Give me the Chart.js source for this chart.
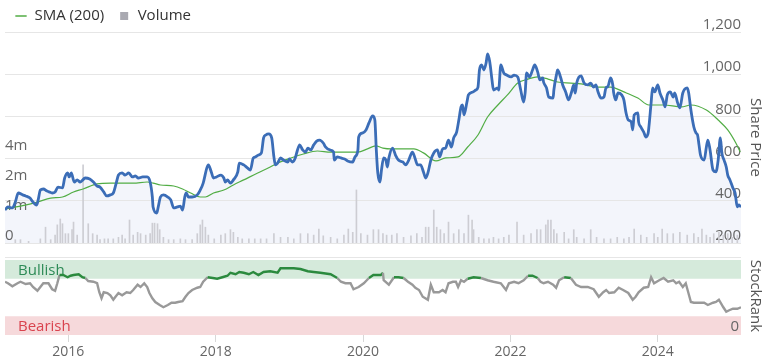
<!DOCTYPE html>
<html><head><meta charset="utf-8">
<script src="https://cdn.jsdelivr.net/npm/chart.js@4.4.1/dist/chart.umd.min.js"></script>
<style>
html,body{margin:0;padding:0;background:#fff;}
#wrap{position:relative;width:766px;height:360px;overflow:hidden;background:#fff;}
canvas{position:absolute;left:0;}
#c1{top:0;}
#c2{top:250px;}
</style></head><body>
<div id="wrap"><canvas id="c1" width="766" height="250"></canvas><canvas id="c2" width="766" height="110"></canvas></div>
<script>
// ---- data: [decimal year, value] ----
const sharePrice = [[2015.14,356],[2015.18,371],[2015.24,366],[2015.28,394],[2015.32,437],[2015.38,428],[2015.42,423],[2015.48,413],[2015.52,394],[2015.57,380],[2015.59,404],[2015.62,451],[2015.66,456],[2015.71,446],[2015.74,442],[2015.78,437],[2015.82,442],[2015.86,465],[2015.92,461],[2015.95,508],[2015.99,532],[2016.01,513],[2016.04,532],[2016.08,489],[2016.12,499],[2016.16,489],[2016.23,508],[2016.29,503],[2016.34,489],[2016.39,470],[2016.43,465],[2016.48,442],[2016.52,423],[2016.57,428],[2016.61,437],[2016.65,484],[2016.68,522],[2016.73,532],[2016.77,522],[2016.82,532],[2016.87,513],[2016.91,518],[2016.95,508],[2017.01,513],[2017.07,513],[2017.11,489],[2017.14,418],[2017.15,371],[2017.20,342],[2017.22,371],[2017.25,418],[2017.29,428],[2017.35,418],[2017.39,404],[2017.43,366],[2017.48,371],[2017.52,375],[2017.55,356],[2017.58,418],[2017.60,437],[2017.63,418],[2017.68,418],[2017.75,428],[2017.79,451],[2017.83,484],[2017.88,556],[2017.90,570],[2017.94,537],[2017.97,508],[2018.01,513],[2018.07,522],[2018.11,508],[2018.13,489],[2018.16,499],[2018.20,484],[2018.24,499],[2018.30,537],[2018.32,579],[2018.38,570],[2018.43,556],[2018.47,546],[2018.51,603],[2018.54,608],[2018.58,617],[2018.62,627],[2018.65,698],[2018.68,712],[2018.72,717],[2018.76,698],[2018.79,608],[2018.81,570],[2018.84,579],[2018.88,603],[2018.92,593],[2018.98,584],[2019.00,598],[2019.04,584],[2019.08,603],[2019.11,641],[2019.14,665],[2019.18,641],[2019.22,631],[2019.25,650],[2019.29,641],[2019.33,665],[2019.37,683],[2019.41,688],[2019.46,674],[2019.49,655],[2019.55,641],[2019.60,631],[2019.61,593],[2019.65,608],[2019.70,603],[2019.75,598],[2019.79,589],[2019.86,584],[2019.89,608],[2019.93,641],[2019.94,702],[2019.99,721],[2020.04,736],[2020.08,769],[2020.13,802],[2020.16,783],[2020.18,641],[2020.20,532],[2020.23,489],[2020.25,546],[2020.28,603],[2020.31,593],[2020.33,560],[2020.35,603],[2020.40,650],[2020.44,617],[2020.48,593],[2020.54,584],[2020.58,570],[2020.62,593],[2020.67,631],[2020.70,608],[2020.74,570],[2020.78,570],[2020.82,537],[2020.85,508],[2020.88,532],[2020.92,593],[2020.96,627],[2021.01,641],[2021.04,608],[2021.08,646],[2021.12,650],[2021.16,688],[2021.20,655],[2021.23,698],[2021.27,726],[2021.30,783],[2021.33,845],[2021.35,854],[2021.37,807],[2021.41,868],[2021.43,902],[2021.49,916],[2021.53,925],[2021.56,939],[2021.58,1020],[2021.61,1044],[2021.64,1020],[2021.67,1053],[2021.69,1096],[2021.72,1058],[2021.75,973],[2021.77,925],[2021.83,935],[2021.84,925],[2021.87,1044],[2021.91,1006],[2021.95,996],[2022.01,987],[2022.05,996],[2022.10,987],[2022.14,925],[2022.18,868],[2022.20,911],[2022.22,1006],[2022.26,987],[2022.30,1020],[2022.33,1044],[2022.37,1011],[2022.40,973],[2022.44,982],[2022.45,963],[2022.49,935],[2022.52,892],[2022.58,887],[2022.59,925],[2022.63,1006],[2022.64,1020],[2022.68,987],[2022.71,949],[2022.75,916],[2022.79,878],[2022.83,916],[2022.86,949],[2022.88,911],[2022.90,958],[2022.93,987],[2022.96,992],[2023.00,958],[2023.05,949],[2023.09,958],[2023.13,939],[2023.16,949],[2023.19,916],[2023.23,887],[2023.27,892],[2023.30,939],[2023.32,939],[2023.36,982],[2023.39,949],[2023.40,916],[2023.43,878],[2023.46,911],[2023.51,902],[2023.54,878],[2023.57,816],[2023.60,783],[2023.64,774],[2023.66,736],[2023.68,807],[2023.73,816],[2023.74,774],[2023.77,750],[2023.81,726],[2023.84,702],[2023.87,721],[2023.88,750],[2023.91,864],[2023.93,935],[2023.96,916],[2024.00,949],[2024.03,911],[2024.07,878],[2024.10,845],[2024.13,902],[2024.17,916],[2024.21,892],[2024.23,911],[2024.27,864],[2024.30,840],[2024.34,911],[2024.40,935],[2024.42,911],[2024.45,830],[2024.49,750],[2024.52,721],[2024.54,712],[2024.56,665],[2024.58,617],[2024.63,593],[2024.66,655],[2024.68,688],[2024.71,641],[2024.75,546],[2024.79,537],[2024.82,593],[2024.85,698],[2024.87,627],[2024.90,593],[2024.93,560],[2024.95,522],[2024.98,499],[2025.02,461],[2025.05,437],[2025.08,371],[2025.10,380],[2025.13,371]];

const sma200 = [[2015.14,361],[2015.35,375],[2015.58,394],[2015.76,413],[2015.92,418],[2016.07,442],[2016.20,456],[2016.39,480],[2016.57,484],[2016.71,484],[2016.88,484],[2017.07,489],[2017.15,484],[2017.25,475],[2017.43,470],[2017.55,456],[2017.66,437],[2017.79,418],[2017.86,418],[2017.97,437],[2018.11,451],[2018.24,475],[2018.38,499],[2018.57,532],[2018.74,560],[2018.84,579],[2019.02,603],[2019.19,622],[2019.38,636],[2019.56,631],[2019.74,631],[2019.93,631],[2020.06,646],[2020.17,660],[2020.27,650],[2020.38,646],[2020.47,646],[2020.69,646],[2020.82,627],[2020.99,589],[2021.12,603],[2021.29,608],[2021.42,655],[2021.56,712],[2021.69,797],[2021.83,854],[2021.96,902],[2022.10,958],[2022.24,977],[2022.37,987],[2022.51,977],[2022.64,963],[2022.82,958],[2022.96,954],[2023.19,939],[2023.36,939],[2023.54,916],[2023.73,887],[2023.88,854],[2024.08,854],[2024.32,845],[2024.45,854],[2024.66,830],[2024.82,783],[2024.95,736],[2025.06,674],[2025.12,631]];

// volume in millions
const volume = [[2015.28,0.54],[2015.35,0.54],[2015.46,0.52],[2015.62,0.55],[2015.69,0.72],[2015.76,0.54],[2015.82,0.60],[2015.85,0.76],[2015.89,0.87],[2015.92,0.78],[2015.96,0.62],[2016.00,0.62],[2016.05,0.68],[2016.07,0.81],[2016.12,0.60],[2016.20,3.03],[2016.27,0.78],[2016.33,0.62],[2016.39,0.60],[2016.43,0.54],[2016.49,0.55],[2016.54,0.55],[2016.61,0.55],[2016.68,0.57],[2016.73,0.60],[2016.77,0.55],[2016.83,0.85],[2016.88,0.60],[2016.94,0.64],[2016.98,0.62],[2017.05,0.60],[2017.11,0.62],[2017.14,0.79],[2017.17,0.79],[2017.21,0.78],[2017.24,0.68],[2017.29,0.57],[2017.36,0.54],[2017.43,0.54],[2017.52,0.55],[2017.59,0.54],[2017.68,0.54],[2017.75,0.62],[2017.79,0.76],[2017.82,0.85],[2017.86,0.72],[2017.90,0.60],[2017.98,0.55],[2018.07,0.60],[2018.13,0.62],[2018.20,0.68],[2018.24,0.64],[2018.30,0.57],[2018.36,0.55],[2018.45,0.55],[2018.53,0.55],[2018.61,0.55],[2018.69,0.55],[2018.79,0.62],[2018.88,0.57],[2018.98,0.57],[2019.06,0.55],[2019.15,0.62],[2019.25,0.62],[2019.33,0.60],[2019.40,0.69],[2019.46,0.59],[2019.56,0.57],[2019.65,0.55],[2019.74,0.60],[2019.80,0.69],[2019.86,0.64],[2019.91,1.70],[2019.97,0.62],[2020.06,0.60],[2020.14,0.68],[2020.21,0.68],[2020.27,0.62],[2020.32,0.60],[2020.39,0.60],[2020.46,0.62],[2020.55,0.57],[2020.65,0.59],[2020.73,0.62],[2020.80,0.57],[2020.85,0.72],[2020.89,0.72],[2020.96,1.07],[2021.00,0.72],[2021.05,0.68],[2021.10,0.62],[2021.16,0.81],[2021.23,0.62],[2021.30,0.68],[2021.37,0.62],[2021.43,0.95],[2021.48,0.85],[2021.50,0.68],[2021.57,0.57],[2021.64,0.55],[2021.71,0.55],[2021.77,0.57],[2021.84,0.55],[2021.91,0.57],[2021.98,0.60],[2022.09,0.81],[2022.18,0.60],[2022.28,0.62],[2022.36,0.68],[2022.41,0.68],[2022.48,0.76],[2022.51,0.85],[2022.55,0.85],[2022.59,0.68],[2022.63,0.62],[2022.73,0.64],[2022.79,0.55],[2022.86,0.68],[2022.90,0.57],[2023.00,0.55],[2023.09,0.68],[2023.17,0.57],[2023.27,0.55],[2023.36,0.55],[2023.45,0.57],[2023.54,0.55],[2023.61,0.57],[2023.68,0.69],[2023.77,0.60],[2023.85,0.57],[2023.95,0.62],[2024.00,0.57],[2024.06,0.69],[2024.13,0.62],[2024.21,0.62],[2024.30,0.64],[2024.40,0.60],[2024.49,0.62],[2024.55,0.57],[2024.60,0.69],[2024.66,0.60],[2024.71,0.57],[2024.76,0.62],[2024.83,0.64],[2024.89,0.60],[2024.95,0.62],[2025.01,0.57],[2025.08,0.60]];

const stockRank = [[2015.14,71],[2015.18,69],[2015.24,65],[2015.31,69],[2015.35,71],[2015.42,68],[2015.48,69],[2015.52,64],[2015.58,59],[2015.62,64],[2015.66,69],[2015.73,69],[2015.78,61],[2015.82,59],[2015.85,69],[2015.88,80],[2015.93,80],[2015.99,77],[2016.03,79],[2016.07,80],[2016.14,81],[2016.19,77],[2016.23,76],[2016.27,72],[2016.34,71],[2016.39,69],[2016.42,57],[2016.45,49],[2016.48,57],[2016.53,56],[2016.57,53],[2016.61,47],[2016.64,51],[2016.68,56],[2016.73,53],[2016.79,57],[2016.84,56],[2016.88,60],[2016.94,67],[2016.98,64],[2017.03,69],[2017.07,64],[2017.10,56],[2017.14,49],[2017.18,44],[2017.24,40],[2017.29,37],[2017.35,40],[2017.40,43],[2017.45,43],[2017.49,44],[2017.55,45],[2017.59,51],[2017.63,56],[2017.68,60],[2017.75,63],[2017.79,64],[2017.83,71],[2017.89,77],[2017.96,76],[2018.02,75],[2018.09,77],[2018.16,79],[2018.20,83],[2018.27,81],[2018.32,84],[2018.38,83],[2018.45,81],[2018.51,84],[2018.58,80],[2018.65,84],[2018.74,85],[2018.84,83],[2018.88,89],[2018.98,89],[2019.06,89],[2019.15,88],[2019.25,85],[2019.33,84],[2019.42,83],[2019.56,81],[2019.65,76],[2019.70,71],[2019.76,69],[2019.83,69],[2019.87,61],[2019.94,64],[2020.01,69],[2020.08,76],[2020.14,80],[2020.24,80],[2020.27,83],[2020.28,73],[2020.35,67],[2020.42,77],[2020.48,77],[2020.55,76],[2020.61,71],[2020.67,67],[2020.71,63],[2020.76,60],[2020.81,51],[2020.88,47],[2020.92,67],[2020.96,57],[2021.03,57],[2021.08,60],[2021.12,57],[2021.16,69],[2021.22,71],[2021.26,71],[2021.29,64],[2021.33,73],[2021.37,71],[2021.42,75],[2021.50,77],[2021.60,76],[2021.69,73],[2021.77,71],[2021.87,69],[2021.94,60],[2021.98,69],[2022.05,71],[2022.11,69],[2022.18,73],[2022.24,79],[2022.30,79],[2022.37,76],[2022.41,71],[2022.45,69],[2022.51,71],[2022.58,67],[2022.62,63],[2022.66,73],[2022.73,77],[2022.82,76],[2022.89,67],[2022.96,64],[2023.05,64],[2023.13,61],[2023.20,51],[2023.26,57],[2023.30,60],[2023.34,56],[2023.41,57],[2023.47,63],[2023.53,60],[2023.60,56],[2023.66,47],[2023.70,51],[2023.74,57],[2023.81,63],[2023.87,64],[2023.91,77],[2023.95,69],[2024.02,73],[2024.08,76],[2024.14,71],[2024.21,73],[2024.25,69],[2024.29,71],[2024.34,64],[2024.38,69],[2024.45,44],[2024.49,43],[2024.56,43],[2024.63,43],[2024.68,40],[2024.75,43],[2024.79,44],[2024.83,47],[2024.89,37],[2024.93,31],[2024.97,33],[2025.02,35],[2025.08,35],[2025.13,37]];

const yearTicks = [2016, 2018, 2020, 2022, 2024];
const priceTicks = [200, 400, 600, 800, 1000, 1200];
const volumeTicks = [0.5, 1, 2, 4];           // millions
const volumeTickLabels = ['0', '1m', '2m', '4m'];
const rankTicks = [0];
const bullishRange = [75, 100];
const bearishRange = [0, 25];
const xRange = [2015.14, 2025.13];

// ---- rendering ----
const FONT = "'Open Sans', 'Noto Sans', sans-serif";
Chart.defaults.font.family = FONT;
Chart.defaults.animation = false;
const toXY = arr => arr.map(p => ({x: p[0], y: p[1]}));
const SMA_COLOR = '#52ad45';
const VOL_COLOR = '#cdcdd3';

const legendShift = {
  id: 'legendShift',
  afterLayout(chart) {
    const lg = chart.legend;
    if (lg) { lg.left += 1; lg.right += 1; lg.top -= 5.5; lg.bottom -= 5.5; }
  }
};

new Chart(document.getElementById('c1'), {
  type: 'line',
  data: { datasets: [
    { label: 'Share Price', data: toXY(sharePrice), yAxisID: 'y', borderColor: '#3b6db7', borderWidth: 2.8,
      pointRadius: 0, cubicInterpolationMode: 'monotone', fill: 'start', backgroundColor: '#f3f5fb', order: 0 },
    { label: 'SMA (200)', data: toXY(sma200), yAxisID: 'y', borderColor: SMA_COLOR, borderWidth: 1.2,
      pointRadius: 0, cubicInterpolationMode: 'monotone', fill: false, order: 1 },
    { type: 'bar', label: 'Volume', data: toXY(volume), yAxisID: 'yVol', backgroundColor: VOL_COLOR,
      barThickness: 1, order: 2 }
  ]},
  options: {
    responsive: false, devicePixelRatio: 1, animation: false,
    layout: { padding: { left: 0, right: 0, top: 0, bottom: 7 } },
    plugins: {
      tooltip: { enabled: false },
      filler: { drawTime: 'beforeDraw' },
      legend: {
        display: true, position: 'top', align: 'start', maxHeight: 32,
        labels: {
          usePointStyle: true, boxWidth: 12, boxHeight: 8, padding: 14, color: '#333', font: { size: 15 },
          generateLabels: () => [
            { text: 'SMA (200)', pointStyle: 'line', strokeStyle: SMA_COLOR, fillStyle: SMA_COLOR, lineWidth: 1.5, hidden: false, datasetIndex: 1, fontColor: '#333' },
            { text: 'Volume', pointStyle: 'rect', strokeStyle: '#a9a9b1', fillStyle: '#a9a9b1', lineWidth: 0, hidden: false, datasetIndex: 2, fontColor: '#333' }
          ]
        }
      }
    },
    scales: {
      x: { type: 'linear', min: xRange[0], max: xRange[1], display: false, offset: false },
      yVol: {
        type: 'logarithmic', position: 'left', min: volumeTicks[0], max: 65,
        grid: { display: false }, border: { display: false },
        ticks: { mirror: true, padding: 0, labelOffset: -7, color: '#666', font: { size: 15 },
          callback: v => { const i = volumeTicks.indexOf(v); return i >= 0 ? volumeTickLabels[i] : ''; } },
        afterBuildTicks: s => { s.ticks = volumeTicks.map(v => ({ value: v })); },
        afterFit: s => { s.width = 5; s.paddingTop = 0; s.paddingBottom = 0; }
      },
      y: {
        type: 'linear', position: 'right', min: priceTicks[0], max: priceTicks[priceTicks.length - 1],
        grid: { color: '#e6e6e6', drawTicks: false }, border: { display: false },
        ticks: { mirror: true, padding: 0, labelOffset: -7, color: '#666', font: { size: 15 } },
        afterBuildTicks: s => { s.ticks = priceTicks.map(v => ({ value: v })); },
        title: { display: true, text: 'Share Price', color: '#555', font: { size: 15 }, padding: { top: 2, bottom: 0 } },
        afterFit: s => { s.width = 25; s.paddingTop = 0; s.paddingBottom = 0; }
      }
    }
  },
  plugins: [legendShift]
});

// bands are painted before the axes so the "0" tick label stays visible
const bandsPlugin = {
  id: 'bands',
  beforeDraw(chart) {
    const { ctx, chartArea: { left, right, top }, scales: { y } } = chart;
    ctx.save();
    ctx.strokeStyle = '#e6e6e6'; ctx.lineWidth = 1;
    ctx.beginPath(); ctx.moveTo(left, top + 0.5); ctx.lineTo(right, top + 0.5); ctx.stroke();
    const band = (range, fill, label, color) => {
      const yTop = y.getPixelForValue(range[1]), yBot = y.getPixelForValue(range[0]);
      ctx.fillStyle = fill; ctx.fillRect(left, yTop, right - left, yBot - yTop);
      ctx.fillStyle = color; ctx.font = "15px " + FONT; ctx.textAlign = 'left'; ctx.textBaseline = 'middle';
      ctx.fillText(label, left + 13, (yTop + yBot) / 2 + 1.5);
    };
    band(bullishRange, '#d5eadb', 'Bullish', '#2e8b57');
    band(bearishRange, '#f6d9db', 'Bearish', '#d9434e');
    ctx.restore();
  }
};

new Chart(document.getElementById('c2'), {
  type: 'line',
  data: { datasets: [{
    label: 'StockRank', data: toXY(stockRank), borderWidth: 2.4, pointRadius: 0, tension: 0, fill: false,
    borderColor: '#999999',
    segment: { borderColor: c => (c.p0.parsed.y >= bullishRange[0] && c.p1.parsed.y >= bullishRange[0]) ? '#2b8a3e' : '#999999' }
  }]},
  options: {
    responsive: false, devicePixelRatio: 1, animation: false,
    layout: { padding: { left: 5, right: 0, top: 7, bottom: 0 } },
    plugins: { legend: { display: false }, tooltip: { enabled: false } },
    scales: {
      x: {
        type: 'linear', min: xRange[0], max: xRange[1], offset: false,
        grid: { drawOnChartArea: false, drawTicks: true, tickLength: 7, color: '#d8d8d8' }, border: { display: false },
        ticks: { color: '#666', font: { size: 14 }, padding: 2, maxRotation: 0, callback: v => String(v) },
        afterBuildTicks: s => { s.ticks = yearTicks.map(v => ({ value: v })); },
        afterFit: s => { s.height = 25; s.paddingLeft = 0; s.paddingRight = 0; }
      },
      y: {
        type: 'linear', position: 'right', min: 0, max: 104,
        grid: { display: false }, border: { display: false },
        ticks: { mirror: true, padding: -2, labelOffset: -8, color: '#666', font: { size: 15 } },
        afterBuildTicks: s => { s.ticks = rankTicks.map(v => ({ value: v })); },
        title: { display: true, text: 'StockRank', color: '#555', font: { size: 15 }, padding: { top: 2, bottom: 0 } },
        afterFit: s => { s.width = 25; s.paddingTop = 0; s.paddingBottom = 0; }
      }
    }
  },
  plugins: [bandsPlugin]
});
</script>
</body></html>
